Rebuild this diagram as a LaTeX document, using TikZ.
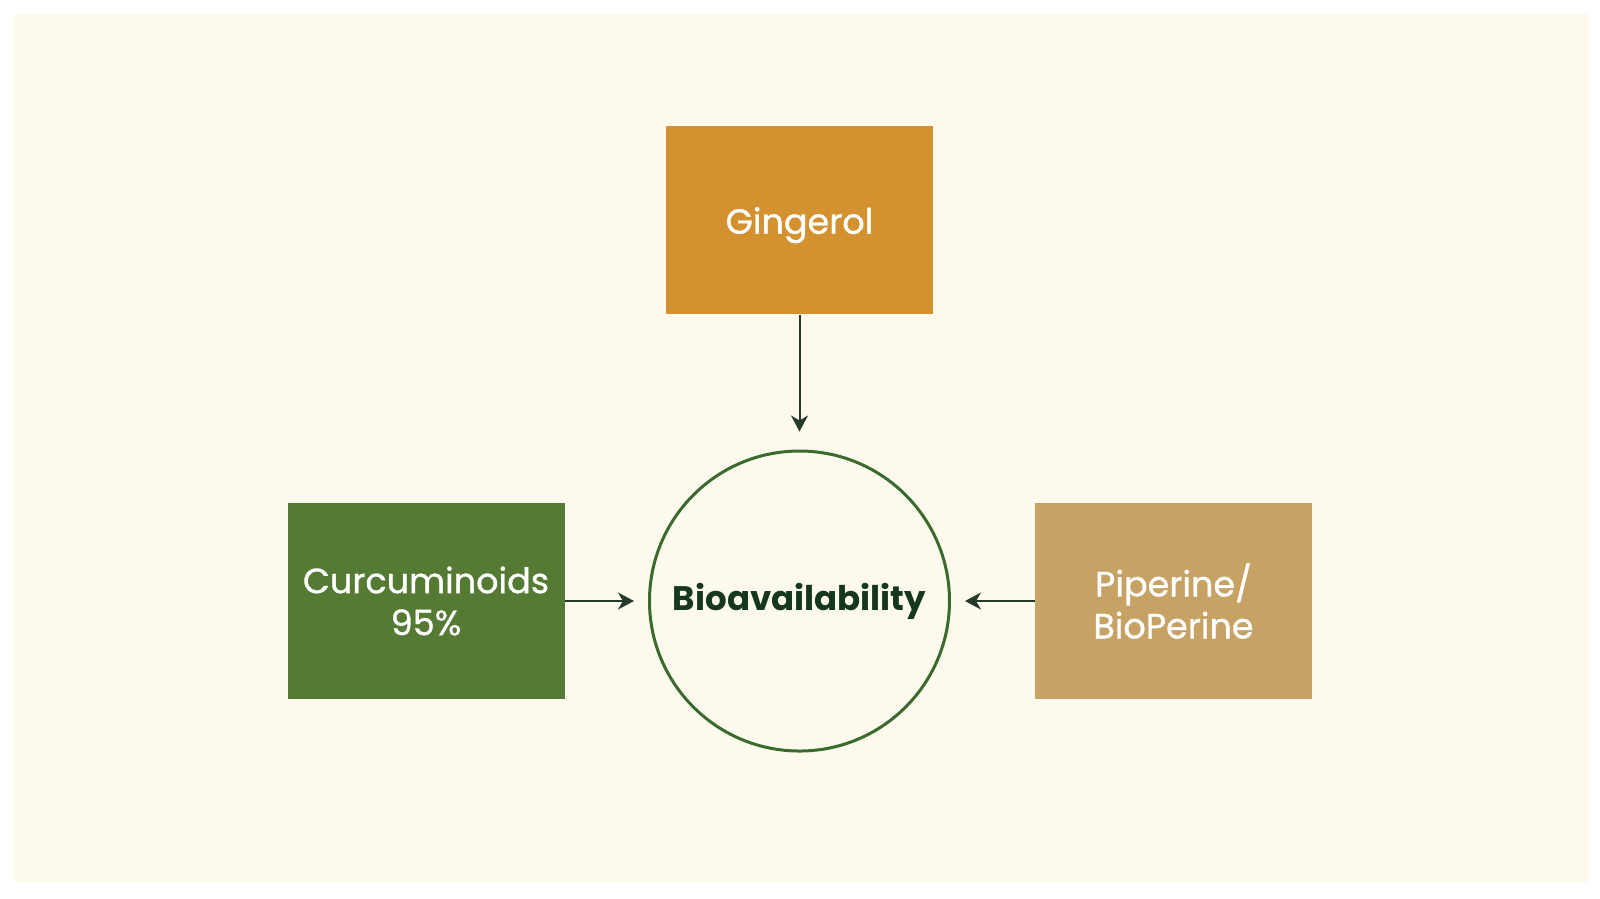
\documentclass[tikz,border=0pt]{standalone}
\usepackage{fontspec}
\setmainfont{Poppins}
\newfontfamily\medfont{Poppins}[FakeBold=0.9]
\usetikzlibrary{arrows.meta}
\definecolor{bgcream}{HTML}{FDF9EC}
\definecolor{ginger}{HTML}{D3912F}
\definecolor{curcgreen}{HTML}{557A34}
\definecolor{pipertan}{HTML}{C7A265}
\definecolor{ringgreen}{HTML}{3A6B2E}
\definecolor{textdark}{HTML}{15361F}
\definecolor{arrowdark}{HTML}{263A2B}
\tikzset{
  box/.style={draw=none, inner sep=0pt, text=white, align=center, font=\medfont\fontsize{35}{42}\selectfont},
  link/.style={draw=arrowdark, line width=2pt, -{Stealth[length=16pt,width=17pt,inset=5pt]}}
}
\begin{document}
\begin{tikzpicture}[x=1.0204pt,y=-1.0204pt]
\useasboundingbox (0,0) rectangle (1568,881);
\fill[white] (0,0) rectangle (1568,881);
\fill[bgcream] (13.5,13.5) rectangle (1556,864);
\node[box, fill=ginger, minimum width=267pt, minimum height=188pt, text depth=0pt] (ging) at (783.5,216) {Gingerol};
\node[box, fill=curcgreen, minimum width=277pt, minimum height=196pt] (curc) at (417.5,589) {Curcuminoids\\95\%};
\node[box, fill=pipertan, minimum width=277pt, minimum height=196pt] (pip) at (1150,589) {Piperine/\\BioPerine};
\node[circle, draw=ringgreen, line width=3pt, fill=bgcream, minimum size=300pt, inner sep=0pt, text=textdark, font=\bfseries\fontsize{34}{40}\selectfont] (bio) at (783.5,589) {Bioavailability};
\draw[link] (ging.south) -- ([yshift=18pt]bio.north);
\draw[link] (curc.east) -- ([xshift=-14pt]bio.west);
\draw[link] (pip.west) -- ([xshift=14pt]bio.east);
\end{tikzpicture}
\end{document}
